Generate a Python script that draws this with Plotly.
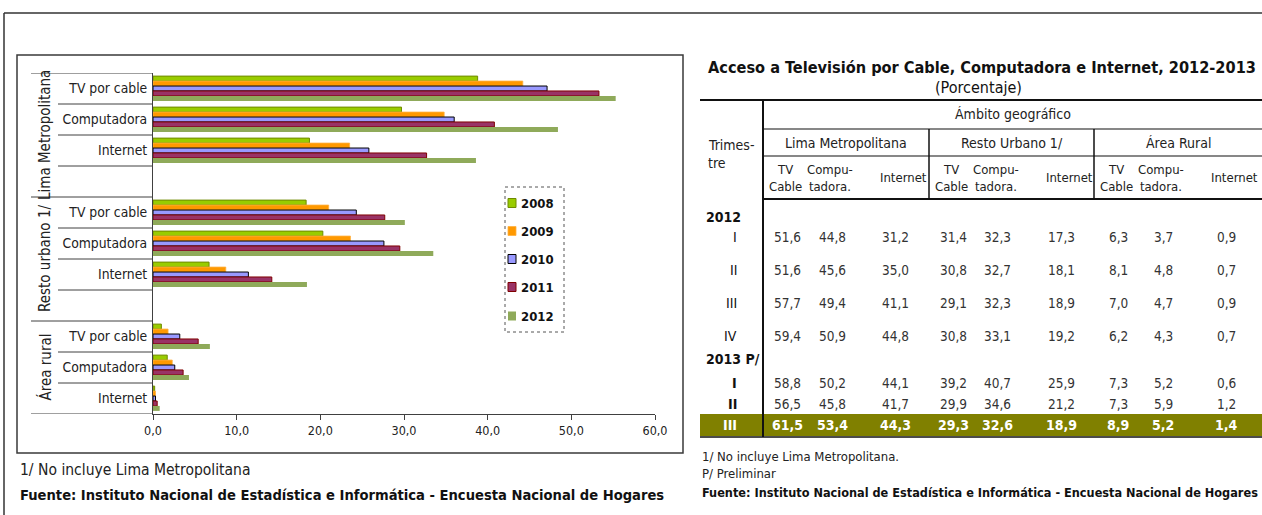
import plotly.graph_objects as go

W, H = 1262, 515
FONT = "Liberation Sans Narrow, Arial Narrow, DejaVu Sans Condensed, sans-serif"

# ---------------- data ----------------
years = ["2008", "2009", "2010", "2011", "2012"]
groups = ["Lima Metropolitana", "Resto urbano 1/", "Área rural"]
services = ["TV por cable", "Computadora", "Internet"]

# values per year, order: Lima(TV, Comp, Int), Resto(TV, Comp, Int), Rural(TV, Comp, Int)
v2008 = [38.8, 29.7, 18.7, 18.3, 20.3, 6.7, 1.0, 1.7, 0.2]
v2009 = [44.2, 34.8, 23.5, 21.0, 23.6, 8.7, 1.8, 2.3, 0.3]
v2010 = [47.1, 36.0, 25.8, 24.3, 27.6, 11.4, 3.2, 2.6, 0.3]
v2011 = [53.3, 40.8, 32.7, 27.7, 29.5, 14.2, 5.4, 3.6, 0.5]
v2012 = [55.3, 48.4, 38.6, 30.1, 33.5, 18.4, 6.8, 4.3, 0.8]

x_ticks = [0, 10, 20, 30, 40, 50, 60]

# table
table_title = "Acceso a Televisión por Cable, Computadora e Internet, 2012-2013"
table_subtitle = "(Porcentaje)"
t_groups = ["Lima Metropolitana", "Resto Urbano 1/", "Área Rural"]
t_cols = ["TV<br>Cable", "Compu-<br>tadora.", "Internet"]
q2012 = ["I", "II", "III", "IV"]
r2012 = [
    [51.6, 44.8, 31.2, 31.4, 32.3, 17.3, 6.3, 3.7, 0.9],
    [51.6, 45.6, 35.0, 30.8, 32.7, 18.1, 8.1, 4.8, 0.7],
    [57.7, 49.4, 41.1, 29.1, 32.3, 18.9, 7.0, 4.7, 0.9],
    [59.4, 50.9, 44.8, 30.8, 33.1, 19.2, 6.2, 4.3, 0.7],
]
q2013 = ["I", "II", "III"]
r2013 = [
    [58.8, 50.2, 44.1, 39.2, 40.7, 25.9, 7.3, 5.2, 0.6],
    [56.5, 45.8, 41.7, 29.9, 34.6, 21.2, 7.3, 5.9, 1.2],
    [61.5, 53.4, 44.3, 29.3, 32.6, 18.9, 8.9, 5.2, 1.4],
]

# ---------------- helpers ----------------
def X(p):
    return p / W

def Y(p):
    return 1 - p / H

def fmt(v):
    return f"{v:.1f}".replace(".", ",")

colors = ["#99CC00", "#FF9900", "#9999FF", "#993366", "#8FAA5A"]
lines = ["#6F8A00", "#FFB040", "#000000", "#800000", "#8FAA5A"]
lwidth = [1, 0.8, 1, 1, 0]
series = [v2008, v2009, v2010, v2011, v2012]

# category slots (top to bottom)
cat_keys, cat_text = [], []
data_keys = []
for gi, g in enumerate(groups):
    for s in services:
        k = f"{g}|{s}"
        cat_keys.append(k)
        cat_text.append(s)
        data_keys.append(k)
    if gi < len(groups) - 1:
        cat_keys.append(f"sp{gi}")
        cat_text.append("")

fig = go.Figure()
for i, y in enumerate(years):
    fig.add_trace(go.Bar(
        y=data_keys, x=series[i], orientation="h", name=y, showlegend=False,
        marker=dict(color=colors[i], line=dict(color=lines[i], width=lwidth[i])),
    ))

shapes = []
annotations = []

# outer frame
shapes.append(dict(type="line", xref="paper", yref="paper", x0=X(4), x1=X(1262), y0=Y(13), y1=Y(13),
                   line=dict(color="#333333", width=1.5)))
shapes.append(dict(type="line", xref="paper", yref="paper", x0=X(4), x1=X(4), y0=Y(13), y1=Y(515),
                   line=dict(color="#333333", width=1.5)))
# chart frame
shapes.append(dict(type="rect", xref="paper", yref="paper", x0=X(17), x1=X(683), y0=Y(55), y1=Y(453),
                   line=dict(color="#3a3a3a", width=1.5), layer="below"))

# y-axis separators
n = len(cat_keys)
group_bounds = [-0.5]
idx = 0
for gi in range(len(groups)):
    idx += 4 if gi < len(groups) - 1 else 3
    group_bounds.append(idx - 0.5)
for b in range(n + 1):
    pos = b - 0.5
    x_start = 31 if pos in group_bounds else 58
    shapes.append(dict(type="line", xref="paper", yref="y", x0=X(x_start), x1=X(153), y0=pos, y1=pos,
                       line=dict(color="#404040", width=1)))

# group labels (rotated)
for gi, g in enumerate(groups):
    c = (group_bounds[gi] + group_bounds[gi + 1]) / 2
    annotations.append(dict(text=g, xref="paper", yref="y", x=X(45), y=c, textangle=-90,
                            xanchor="center", yanchor="middle",
                            showarrow=False, font=dict(family=FONT, size=15, color="#222222")))

# legend (dotted box, swatches, labels)
shapes.append(dict(type="rect", xref="paper", yref="paper", x0=X(505), x1=X(564), y0=Y(187), y1=Y(332),
                   line=dict(color="#555555", width=1, dash="dot"), layer="below"))
leg_y = [203, 231, 259, 287, 316]
for i, yr in enumerate(years):
    yc = leg_y[i]
    shapes.append(dict(type="rect", xref="paper", yref="paper", x0=X(508), x1=X(516),
                       y0=Y(yc - 4.5), y1=Y(yc + 4.5), fillcolor=colors[i],
                       line=dict(color=lines[i], width=max(lwidth[i], 0.01))))
    annotations.append(dict(text=f"<b>{yr}</b>", xref="paper", yref="paper", x=X(519), y=Y(yc),
                            xanchor="left", yanchor="middle", showarrow=False,
                            font=dict(family=FONT, size=13, color="#111111")))

# left footnotes
annotations.append(dict(text="1/ No incluye Lima Metropolitana", xref="paper", yref="paper",
                        x=X(18), y=Y(470), xanchor="left", yanchor="middle", showarrow=False,
                        font=dict(family=FONT, size=15.5, color="#222222")))
annotations.append(dict(text="<b>Fuente: Instituto Nacional de Estadística e Informática - Encuesta Nacional de Hogares</b>",
                        xref="paper", yref="paper", x=X(18), y=Y(494), xanchor="left", yanchor="middle",
                        showarrow=False, font=dict(family=FONT, size=14.6, color="#111111")))

# ---------------- table ----------------
TX0, TX1 = 700, 1262
D = [763, 929, 1094, 1262]
sub_off_hdr = [22, 67, 140]
sub_off_val = [24, 69, 132]
L_TOP, L_AMB, L_GRP, L_HDR = 100, 129, 156, 199

def hline(y, x0, x1, w=1.2):
    shapes.append(dict(type="line", xref="paper", yref="paper", x0=X(x0), x1=X(x1), y0=Y(y), y1=Y(y),
                       line=dict(color="#111111", width=w)))

def vline(x, y0, y1, w=1.2):
    shapes.append(dict(type="line", xref="paper", yref="paper", x0=X(x), x1=X(x), y0=Y(y0), y1=Y(y1),
                       line=dict(color="#111111", width=w)))

def txt(s, x, y, size=14, color="#222222", xanchor="center", bold=False):
    if bold:
        s = f"<b>{s}</b>"
    annotations.append(dict(text=s, xref="paper", yref="paper", x=X(x), y=Y(y), xanchor=xanchor,
                            yanchor="middle", showarrow=False,
                            font=dict(family=FONT, size=size, color=color)))

txt(table_title, (TX0 + TX1) / 2 + 1, 68, size=16.2, color="#111111", bold=True)
txt(table_subtitle, (D[0] + TX1) / 2 - 34, 88, size=16, color="#111111")

hline(L_TOP, TX0, TX1, 2)
hline(L_AMB, D[0], TX1)
hline(L_GRP, D[0], TX1)
hline(L_HDR, D[0], TX1, 2)
vline(D[0], L_TOP, 437, 2)
for d in D[1:3]:
    vline(d, L_AMB, L_HDR, 1.5)

txt("Ámbito geográfico", (D[0] + TX1) / 2, (L_TOP + L_AMB) / 2, size=14)
txt("Trimes-", 706, 145, size=14, xanchor="left")
txt("tre", 706, 163, size=14, xanchor="left")
for gi, g in enumerate(t_groups):
    txt(g, (D[gi] + D[gi + 1]) / 2, (L_AMB + L_GRP) / 2 + 1, size=14)
    for ci, c in enumerate(t_cols):
        txt(c, D[gi] + sub_off_hdr[ci], (L_GRP + L_HDR) / 2, size=13)

# body
txt("2012", 704, 217, size=14, color="#111111", xanchor="left", bold=True)
rows_y_2012 = [237, 270, 303, 336]
for qi, q in enumerate(q2012):
    yy = rows_y_2012[qi]
    txt(q, 739, yy, size=14, color="#111111", xanchor="right")
    for j, v in enumerate(r2012[qi]):
        gi, ci = divmod(j, 3)
        txt(fmt(v), D[gi] + sub_off_val[ci], yy, size=13.5, color="#333333")

txt("2013 P/", 704, 359, size=14, color="#111111", xanchor="left", bold=True)
rows_y_2013 = [383, 404, 425]
# highlight last row
shapes.append(dict(type="rect", xref="paper", yref="paper", x0=X(TX0), x1=X(TX1), y0=Y(414), y1=Y(436),
                   fillcolor="#808000", line=dict(width=0), layer="below"))
hline(437, TX0, TX1, 1.5)
for qi, q in enumerate(q2013):
    yy = rows_y_2013[qi]
    last = qi == len(q2013) - 1
    col = "#FFFFFF" if last else "#111111"
    txt(q, 739, yy, size=14, color=col, xanchor="right", bold=True)
    for j, v in enumerate(r2013[qi]):
        gi, ci = divmod(j, 3)
        txt(fmt(v), D[gi] + sub_off_val[ci], yy, size=13.5 if not last else 14,
            color="#FFFFFF" if last else "#333333", bold=last)

txt("1/ No incluye Lima Metropolitana.", 700, 456, size=13, xanchor="left")
txt("P/ Preliminar", 700, 473, size=13, xanchor="left")
txt("<b>Fuente: Instituto Nacional de Estadística e Informática - Encuesta Nacional de Hogares</b>",
    700, 492, size=12.6, color="#111111", xanchor="left")

fig.update_layout(
    width=W, height=H, autosize=False,
    margin=dict(l=0, r=0, t=0, b=0, pad=0, autoexpand=False),
    paper_bgcolor="white", plot_bgcolor="white",
    separators=",.",
    barmode="group", bargap=0.2, bargroupgap=0.0,
    showlegend=False,
    font=dict(family=FONT, size=13, color="#222222"),
    xaxis=dict(domain=[X(153), X(655)], range=[0, 60], tickvals=x_ticks, tickformat=".1f",
               showgrid=False, zeroline=False, showline=True, linecolor="#404040", linewidth=1,
               ticks="outside", ticklen=5, tickcolor="#404040", automargin=False,
               tickfont=dict(family=FONT, size=12.5, color="#222222")),
    yaxis=dict(domain=[Y(414), Y(73)], type="category", categoryorder="array", categoryarray=cat_keys,
               range=[n - 0.5, -0.5], tickmode="array", tickvals=cat_keys, ticktext=cat_text,
               showgrid=False, zeroline=False, showline=True, linecolor="#404040", linewidth=1,
               ticks="", ticklabelstandoff=2, automargin=False,
               tickfont=dict(family=FONT, size=13.8, color="#222222")),
    shapes=shapes, annotations=annotations,
)

page_js = (
    "document.documentElement.style.margin='0';document.documentElement.style.overflow='hidden';"
    "document.body.style.margin='0';document.body.style.padding='0';document.body.style.overflow='hidden';"
    "var gd=document.getElementById('{plot_id}');"
    "gd.style.position='fixed';gd.style.left='0px';gd.style.top='0px';"
)
fig.write_html("out.html", config={"displayModeBar": False, "responsive": False},
               post_script=page_js)
